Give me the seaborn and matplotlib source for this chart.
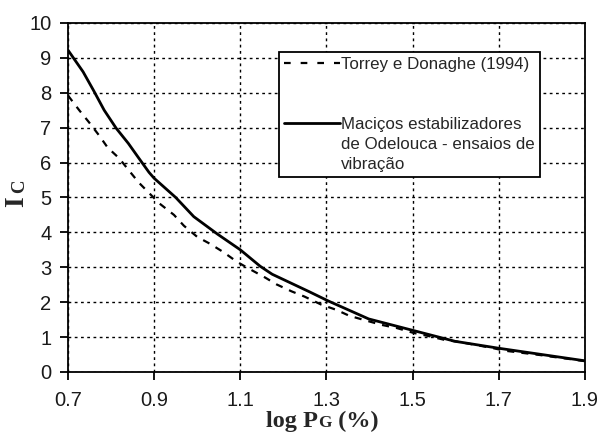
import matplotlib
matplotlib.use("Agg")
import matplotlib.pyplot as plt
from matplotlib.lines import Line2D
from matplotlib.offsetbox import TextArea, HPacker, AnnotationBbox
import seaborn as sns
import pandas as pd

# ---- data ----
x_vib = [0.70, 0.735, 0.76, 0.784, 0.812, 0.84, 0.863, 0.888, 0.90, 0.95, 0.992, 1.047, 1.10, 1.146, 1.174, 1.26, 1.305, 1.398, 1.498, 1.598, 1.70, 1.80, 1.90]
y_vib = [9.22, 8.60, 8.05, 7.50, 6.98, 6.55, 6.15, 5.72, 5.55, 5.00, 4.45, 3.95, 3.50, 3.03, 2.80, 2.30, 2.03, 1.52, 1.20, 0.88, 0.68, 0.50, 0.32]

x_td = [0.70, 0.726, 0.749, 0.772, 0.792, 0.819, 0.841, 0.864, 0.888, 0.912, 0.946, 0.969, 1.00, 1.03, 1.06, 1.093, 1.123, 1.157, 1.184, 1.219, 1.249, 1.288, 1.323, 1.353, 1.393, 1.428, 1.463, 1.502, 1.537, 1.574, 1.609, 1.644, 1.684, 1.714, 1.753, 1.793, 1.828, 1.865, 1.90]
y_td = [7.92, 7.50, 7.15, 6.78, 6.43, 6.12, 5.78, 5.43, 5.13, 4.83, 4.50, 4.19, 3.87, 3.67, 3.44, 3.15, 2.94, 2.71, 2.51, 2.31, 2.16, 1.93, 1.78, 1.61, 1.47, 1.35, 1.26, 1.12, 1.03, 0.92, 0.86, 0.78, 0.69, 0.61, 0.55, 0.49, 0.43, 0.37, 0.31]

label_td = "Torrey e Donaghe (1994)"
label_vib = ["Maciços estabilizadores", "de Odelouca - ensaios de", "vibração"]
x_ticks = [0.7, 0.9, 1.1, 1.3, 1.5, 1.7, 1.9]
y_ticks = list(range(0, 11))

df = pd.concat([
    pd.DataFrame({"x": x_td, "y": y_td, "serie": "td"}),
    pd.DataFrame({"x": x_vib, "y": y_vib, "serie": "vib"}),
])

sns.set_style("ticks")
plt.rcParams["font.family"] = ["Liberation Sans", "DejaVu Sans"]

DASH = (0, (3.2, 3.2))

fig = plt.figure(figsize=(5.98, 4.38), dpi=100)
ax = fig.add_axes([0.1137, 0.1507, 0.8645, 0.797])

sns.lineplot(data=df[df.serie == "td"], x="x", y="y", ax=ax, color="black",
             lw=1.6, linestyle=DASH, legend=False, sort=False)
sns.lineplot(data=df[df.serie == "vib"], x="x", y="y", ax=ax, color="black",
             lw=2.0, legend=False, sort=False)

ax.set_xlim(0.7, 1.9)
ax.set_ylim(0, 10)
ax.set_xticks(x_ticks)
ax.set_xticklabels([f"{v:.1f}" for v in x_ticks])
ax.set_yticks(y_ticks)
ax.grid(True, color="black", linestyle=(0, (2, 2.5)), linewidth=1.0)
for s in ax.spines.values():
    s.set_color("black")
    s.set_linewidth(1.3)
ax.tick_params(axis="both", labelsize=14.5, color="black", length=6, width=1.3,
               direction="out", labelcolor="#1a1a1a")
ax.tick_params(axis="x", pad=8)
ax.tick_params(axis="y", pad=6)
ax.set_xlabel("")
ax.set_ylabel("")

# legend
h_td = Line2D([], [], color="black", lw=1.6, linestyle=(0, (3, 4.5)))
h_vib = Line2D([], [], color="black", lw=2.0)
blank = Line2D([], [], color="none")
leg = ax.legend([h_td, blank, blank, h_vib, blank, blank],
                [label_td, " ", " ", label_vib[0], label_vib[1], label_vib[2]],
                loc="upper left", bbox_to_anchor=(0.408, 0.917),
                fontsize=12.2, handlelength=3.3, handletextpad=0.05,
                labelspacing=0.3, borderpad=0.3, borderaxespad=0,
                frameon=True, fancybox=False, edgecolor="black",
                framealpha=1)
leg.get_frame().set_linewidth(1.3)

# axis labels with small-caps style subscripts
serif = ["Liberation Serif", "DejaVu Serif"]
xl = HPacker(children=[
    TextArea("log P", textprops=dict(family=serif, weight="bold", size=17.5)),
    TextArea("G", textprops=dict(family=serif, weight="bold", size=12.5)),
    TextArea(" (%)", textprops=dict(family=serif, weight="bold", size=17.5)),
], align="baseline", pad=0, sep=0)
ax.add_artist(AnnotationBbox(xl, (0.492, -0.143), xycoords="axes fraction",
                             frameon=False, box_alignment=(0.5, 0.5)))
ax.text(-0.0754, 0.488, "I", transform=ax.transAxes, rotation=90,
        family=serif, weight="bold", size=20, ha="right", va="center")
ax.text(-0.0774, 0.531, "C", transform=ax.transAxes, rotation=90,
        family=serif, weight="bold", size=13.5, ha="right", va="center")

fig.savefig("out.png", dpi=100)
